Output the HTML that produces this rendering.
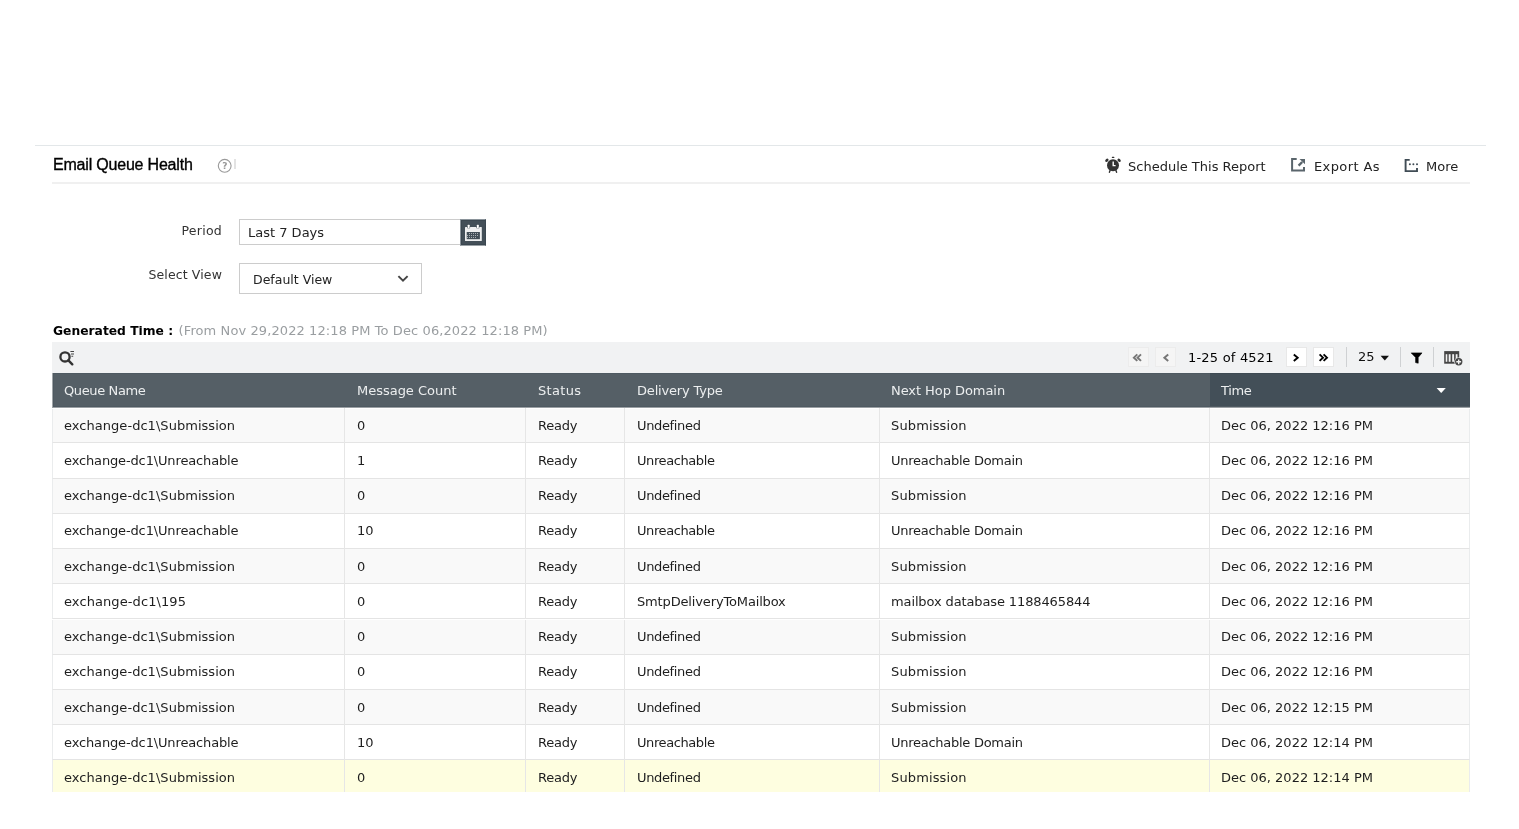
<!DOCTYPE html>
<html><head><meta charset="utf-8">
<style>
#wrap{position:absolute;left:0;top:0;width:1519px;height:829px;will-change:transform}
*{box-sizing:border-box}
html,body{margin:0;padding:0;background:#fff;width:1519px;height:829px;overflow:hidden}
body{font-family:"DejaVu Sans",sans-serif;font-size:13px;color:#000;position:relative}
.abs{position:absolute}
.t{position:absolute;white-space:nowrap;line-height:15px}
#topline{left:35px;top:145px;width:1451px;height:1px;background:#e3e7e9}
#botline{left:52px;top:182px;width:1418px;height:2px;background:#f0f0f0}
#title{left:53px;top:156px;font-family:"Liberation Sans",sans-serif;font-size:16px;line-height:18px;color:#000;letter-spacing:-0.2px;-webkit-text-stroke:0.35px #000}
.act{color:#222}
#toolbar{left:52px;top:342px;width:1418px;height:31px;background:#f1f2f3}
#thead{left:52px;top:373px;width:1418px;height:35px;background:#555f66;border-left:1px solid #a0a5a8;border-bottom:1px solid #9ba0a4;box-shadow:inset 1px 1px 0 #4f5a62,inset 0 -1px 0 #4f5a62}
.th{position:absolute;top:10px;color:#eceeef;line-height:15px;white-space:nowrap}
.row{position:absolute;left:52px;width:1418px;height:35.22px;border-bottom:1px solid #e4e4e4;border-left:1px solid #eaeced;border-right:1px solid #eaeced}
.row.o{background:#f9f9f9}
.row.e{background:#fff}
.row.y{background:#fefee0}
.vl{position:absolute;top:0;bottom:-1px;width:1px;background:#e6e6e6}
.td{position:absolute;line-height:15px;white-space:nowrap;color:#1e1e1e}
.pbtn{position:absolute;top:347px;width:21px;height:20px;background:#f5f5f5;border:1px solid #ececec}
.sep{position:absolute;top:347px;width:1px;height:20px;background:#cfd1d3}
</style></head><body><div id="wrap">
<div class="abs" id="topline"></div>
<div class="t" id="title">Email Queue Health</div>
<svg class="abs" style="left:217px;top:158px" width="16" height="16" viewBox="0 0 16 16">
<circle cx="7.7" cy="7.8" r="6.4" fill="none" stroke="#9a9a9a" stroke-width="1.1"/>
<text x="7.8" y="11.3" font-family="DejaVu Sans, sans-serif" font-weight="bold" font-size="9" fill="#999" text-anchor="middle">?</text>
</svg>
<div class="abs" style="left:234px;top:159px;width:2px;height:9.5px;background:#e3e3e3"></div>

<!-- actions -->
<svg class="abs" style="left:1104px;top:155px" width="18" height="19" viewBox="0 0 18 19">
<circle cx="9" cy="10.3" r="6" fill="#333"/>
<rect x="7.8" y="1.8" width="2.6" height="1.3" rx="0.6" fill="#333"/>
<ellipse cx="2.9" cy="5.3" rx="1.9" ry="1.35" transform="rotate(-45 2.9 5.3)" fill="#333"/>
<ellipse cx="15.1" cy="5.3" rx="1.9" ry="1.35" transform="rotate(45 15.1 5.3)" fill="#333"/>
<path d="M6.2 15 L5.4 17.3 M11.8 15 L12.6 17.3" stroke="#333" stroke-width="1.4" stroke-linecap="round"/>
<path d="M9.2 6.4 V10.6 H11.6" fill="none" stroke="#fff" stroke-width="1.4"/>
</svg>
<div class="t act" style="left:1128px;top:158.5px">Schedule This Report</div>
<svg class="abs" style="left:1290px;top:157px" width="16" height="16" viewBox="0 0 16 16">
<path d="M6.7 2 H2.1 V13.4 H14 V10" fill="none" stroke="#5a656c" stroke-width="2"/>
<path d="M8.6 8.6 L12.2 5" stroke="#5a656c" stroke-width="2.4"/>
<path d="M9.5 1.9 H15 V7.2 Z" fill="#5a656c"/>
</svg>
<div class="t act" style="left:1314px;top:158.5px;letter-spacing:0.4px">Export As</div>
<svg class="abs" style="left:1403px;top:158px" width="16" height="16" viewBox="0 0 16 16">
<path d="M6.7 1.9 H2.6 V13.1 H14 V10" fill="none" stroke="#404c55" stroke-width="1.9"/>
<circle cx="6.9" cy="6.3" r="1" fill="#404c55"/><circle cx="10.4" cy="6.3" r="1" fill="#404c55"/><circle cx="14" cy="6.3" r="1" fill="#404c55"/>
</svg>
<div class="t act" style="left:1426px;top:158.5px">More</div>
<div class="abs" id="botline"></div>

<!-- form -->
<div class="t" style="right:1297px;top:222.5px;color:#333;font-size:12.5px;letter-spacing:0.25px">Period</div>
<div class="abs" style="left:239px;top:219px;width:222px;height:26px;border:1px solid #cccccc;background:#fff"></div>
<div class="t" style="left:248px;top:225px;color:#222">Last 7 Days</div>
<div class="abs" style="left:460px;top:219px;width:26px;height:27px;background:#434f58;border-left:1px solid #8a939a;border-top:1px solid #8a939a;border-bottom:1px solid #9aa1a6;border-right:1px solid #3b4750;box-shadow:inset 1px 1px 0 #3b4750,inset 0 -1px 0 #3b4750"></div>
<svg class="abs" style="left:464px;top:224px" width="18" height="18" viewBox="0 0 18 18">
<rect x="1" y="3" width="16.8" height="14" rx="0.6" fill="#eeeff0"/>
<rect x="2.7" y="8" width="13.2" height="7.2" fill="#434f58"/>
<rect x="3.2" y="0.4" width="2.9" height="3.9" rx="0.5" fill="#434f58"/>
<rect x="12.4" y="0.4" width="2.9" height="3.9" rx="0.5" fill="#434f58"/>
<rect x="3.7" y="0.8" width="1.9" height="3.1" rx="0.5" fill="#fff"/>
<rect x="12.9" y="0.8" width="1.9" height="3.1" rx="0.5" fill="#fff"/>
<g fill="#a9afb4"><rect x="5" y="9" width="1" height="1"/><rect x="7" y="9" width="1" height="1"/><rect x="9" y="9" width="1" height="1"/><rect x="11" y="9" width="1" height="1"/><rect x="13" y="9" width="1" height="1"/><rect x="3" y="11" width="1" height="1"/><rect x="5" y="11" width="1" height="1"/><rect x="7" y="11" width="1" height="1"/><rect x="9" y="11" width="1" height="1"/><rect x="11" y="11" width="1" height="1"/><rect x="13" y="11" width="1" height="1"/><rect x="3" y="13" width="1" height="1"/><rect x="5" y="13" width="1" height="1"/><rect x="7" y="13" width="1" height="1"/><rect x="9" y="13" width="1" height="1"/><rect x="11" y="13" width="1" height="1"/></g>
</svg>

<div class="t" style="right:1297px;top:267px;color:#333;font-size:12.5px;letter-spacing:0.12px">Select View</div>
<div class="abs" style="left:239px;top:263px;width:183px;height:31px;border:1px solid #cccccc;background:#fff"></div>
<div class="t" style="left:253px;top:272px;color:#222;font-size:12.5px">Default View</div>
<svg class="abs" style="left:396px;top:273px" width="14" height="10" viewBox="0 0 14 10">
<path d="M2.4 3.1 L7 7.7 L11.6 3.1" fill="none" stroke="#444" stroke-width="1.9"/>
</svg>

<div class="t" style="left:53px;top:323px"><b style="font-size:12.3px">Generated Time :</b> <span style="color:#9a9ea1;letter-spacing:0.095px;margin-left:1.3px">(From Nov 29,2022 12:18 PM To Dec 06,2022 12:18 PM)</span></div>

<!-- toolbar -->
<div class="abs" id="toolbar"></div>
<svg class="abs" style="left:56px;top:348px" width="20" height="20" viewBox="0 0 20 20">
<circle cx="9" cy="8.9" r="4.6" fill="none" stroke="#333" stroke-width="2.3"/>
<path d="M12.4 12.4 L16.3 16.3" stroke="#333" stroke-width="2.4" stroke-linecap="round"/>
<path d="M14.4 3.5 H18 M15 6 H18 M15.4 8.3 H17.2" stroke="#444" stroke-width="1.1"/>
</svg>

<div class="pbtn" style="left:1128px"></div>
<div class="pbtn" style="left:1155px"></div>
<div class="pbtn" style="left:1286px;background:#fff;border-color:#e8e8e8"></div>
<div class="pbtn" style="left:1313px;background:#fff;border-color:#e8e8e8"></div>
<div id="pagertext"></div>
<svg class="abs" style="left:1128px;top:347px" width="20" height="20" viewBox="0 0 20 20"><path d="M9.3 7.4 L5.9 10.65 L9.3 13.9 M13 7.4 L9.6 10.65 L13 13.9" fill="none" stroke="#777" stroke-width="2"/></svg>
<svg class="abs" style="left:1155px;top:347px" width="20" height="20" viewBox="0 0 20 20"><path d="M13.2 7.4 L9.4 10.65 L13.2 13.9" fill="none" stroke="#777" stroke-width="2"/></svg>
<div class="t" style="left:1188px;top:349.5px;color:#000;letter-spacing:0.2px">1-25 of 4521</div>
<svg class="abs" style="left:1286px;top:347px" width="20" height="20" viewBox="0 0 20 20"><path d="M7.8 7.4 L11.7 10.65 L7.8 13.9" fill="none" stroke="#000" stroke-width="1.9"/></svg>
<svg class="abs" style="left:1313px;top:347px" width="20" height="20" viewBox="0 0 20 20"><path d="M6.6 7.4 L10 10.65 L6.6 13.9 M10.6 7.4 L14 10.65 L10.6 13.9" fill="none" stroke="#000" stroke-width="1.9"/></svg>
<div class="sep" style="left:1346px"></div>
<div class="t" style="left:1358px;top:348.5px;color:#111">25</div>
<svg class="abs" style="left:1380px;top:354.6px" width="10" height="7" viewBox="0 0 10 7"><path d="M0.6 0.8 H9 L4.8 5.6 Z" fill="#111"/></svg>
<div class="sep" style="left:1400px"></div>
<svg class="abs" style="left:1410px;top:351.8px" width="14" height="13" viewBox="0 0 14 13"><path d="M1.2 0.9 H12 L8.2 5.4 V11.2 L5.6 10.6 V5.4 Z" fill="#000" stroke="#000" stroke-width="0.6" stroke-linejoin="round"/></svg>
<div class="sep" style="left:1433px"></div>
<svg class="abs" style="left:1443px;top:350px" width="22" height="18" viewBox="0 0 22 18">
<rect x="1.2" y="1.1" width="15" height="12.6" fill="#444"/>
<g fill="#f2f2f2"><rect x="2.7" y="4.2" width="1.6" height="7.6"/><rect x="5.7" y="4.2" width="1.9" height="7.6"/><rect x="9.2" y="4.2" width="1.9" height="7.6"/><rect x="12.7" y="4.2" width="1.8" height="7.6"/></g>
<circle cx="15.7" cy="11.8" r="4.4" fill="#f1f2f3"/>
<circle cx="15.7" cy="11.8" r="3.7" fill="#444"/>
<path d="M15.7 9.4 V14.2 M13.3 11.8 H18.1" stroke="#f2f2f2" stroke-width="1.4"/>
</svg>

<div class="abs" id="thead">
<div class="abs" style="left:1157px;top:0;width:260px;height:33px;background:#434f58;box-shadow:inset 0 1px 0 #3e4a53"></div>
<div class="th" style="left:11px;letter-spacing:-0.38px">Queue Name</div>
<div class="th" style="left:304px;letter-spacing:-0.02px">Message Count</div>
<div class="th" style="left:485px;letter-spacing:0.34px">Status</div>
<div class="th" style="left:584px;letter-spacing:-0.18px">Delivery Type</div>
<div class="th" style="left:838px;letter-spacing:-0.06px">Next Hop Domain</div>
<div class="th" style="left:1168px;letter-spacing:-0.37px">Time</div>
<svg class="abs" style="left:1383px;top:14px" width="11" height="7" viewBox="0 0 11 7"><path d="M0.6 1 H9.8 L5.2 6.1 Z" fill="#fff"/></svg>
</div>
<div class="abs" style="left:52px;top:408px;width:1418px;height:1px;background:#fff"></div>
<div class="row o" style="top:409.00px;height:34.40px">
<div class="vl" style="left:291px;top:-1px"></div>
<div class="vl" style="left:472px;top:-1px"></div>
<div class="vl" style="left:571px;top:-1px"></div>
<div class="vl" style="left:826px;top:-1px"></div>
<div class="vl" style="left:1156px;top:-1px"></div>
<div class="td" style="left:11px;top:8.80px;letter-spacing:0.04px">exchange-dc1\Submission</div>
<div class="td" style="left:304px;top:8.80px">0</div>
<div class="td" style="left:485px;top:8.80px;letter-spacing:-0.22px">Ready</div>
<div class="td" style="left:584px;top:8.80px;letter-spacing:-0.35px">Undefined</div>
<div class="td" style="left:838px;top:8.80px;letter-spacing:0.13px">Submission</div>
<div class="td" style="left:1168px;top:8.80px">Dec 06, 2022 12:16 PM</div>
</div>
<div class="row e" style="top:443.40px;height:35.22px">
<div class="vl" style="left:291px"></div>
<div class="vl" style="left:472px"></div>
<div class="vl" style="left:571px"></div>
<div class="vl" style="left:826px"></div>
<div class="vl" style="left:1156px"></div>
<div class="td" style="left:11px;top:9.62px;letter-spacing:-0.14px">exchange-dc1\Unreachable</div>
<div class="td" style="left:304px;top:9.62px">1</div>
<div class="td" style="left:485px;top:9.62px;letter-spacing:-0.22px">Ready</div>
<div class="td" style="left:584px;top:9.62px;letter-spacing:-0.41px">Unreachable</div>
<div class="td" style="left:838px;top:9.62px;letter-spacing:-0.27px">Unreachable Domain</div>
<div class="td" style="left:1168px;top:9.62px">Dec 06, 2022 12:16 PM</div>
</div>
<div class="row o" style="top:478.62px;height:35.22px">
<div class="vl" style="left:291px"></div>
<div class="vl" style="left:472px"></div>
<div class="vl" style="left:571px"></div>
<div class="vl" style="left:826px"></div>
<div class="vl" style="left:1156px"></div>
<div class="td" style="left:11px;top:9.62px;letter-spacing:0.04px">exchange-dc1\Submission</div>
<div class="td" style="left:304px;top:9.62px">0</div>
<div class="td" style="left:485px;top:9.62px;letter-spacing:-0.22px">Ready</div>
<div class="td" style="left:584px;top:9.62px;letter-spacing:-0.35px">Undefined</div>
<div class="td" style="left:838px;top:9.62px;letter-spacing:0.13px">Submission</div>
<div class="td" style="left:1168px;top:9.62px">Dec 06, 2022 12:16 PM</div>
</div>
<div class="row e" style="top:513.84px;height:35.22px">
<div class="vl" style="left:291px"></div>
<div class="vl" style="left:472px"></div>
<div class="vl" style="left:571px"></div>
<div class="vl" style="left:826px"></div>
<div class="vl" style="left:1156px"></div>
<div class="td" style="left:11px;top:9.62px;letter-spacing:-0.14px">exchange-dc1\Unreachable</div>
<div class="td" style="left:304px;top:9.62px">10</div>
<div class="td" style="left:485px;top:9.62px;letter-spacing:-0.22px">Ready</div>
<div class="td" style="left:584px;top:9.62px;letter-spacing:-0.41px">Unreachable</div>
<div class="td" style="left:838px;top:9.62px;letter-spacing:-0.27px">Unreachable Domain</div>
<div class="td" style="left:1168px;top:9.62px">Dec 06, 2022 12:16 PM</div>
</div>
<div class="row o" style="top:549.06px;height:35.22px">
<div class="vl" style="left:291px"></div>
<div class="vl" style="left:472px"></div>
<div class="vl" style="left:571px"></div>
<div class="vl" style="left:826px"></div>
<div class="vl" style="left:1156px"></div>
<div class="td" style="left:11px;top:9.62px;letter-spacing:0.04px">exchange-dc1\Submission</div>
<div class="td" style="left:304px;top:9.62px">0</div>
<div class="td" style="left:485px;top:9.62px;letter-spacing:-0.22px">Ready</div>
<div class="td" style="left:584px;top:9.62px;letter-spacing:-0.35px">Undefined</div>
<div class="td" style="left:838px;top:9.62px;letter-spacing:0.13px">Submission</div>
<div class="td" style="left:1168px;top:9.62px">Dec 06, 2022 12:16 PM</div>
</div>
<div class="row e" style="top:584.28px;height:35.22px">
<div class="vl" style="left:291px"></div>
<div class="vl" style="left:472px"></div>
<div class="vl" style="left:571px"></div>
<div class="vl" style="left:826px"></div>
<div class="vl" style="left:1156px"></div>
<div class="td" style="left:11px;top:9.62px;letter-spacing:0.09px">exchange-dc1\195</div>
<div class="td" style="left:304px;top:9.62px">0</div>
<div class="td" style="left:485px;top:9.62px;letter-spacing:-0.22px">Ready</div>
<div class="td" style="left:584px;top:9.62px;letter-spacing:-0.15px">SmtpDeliveryToMailbox</div>
<div class="td" style="left:838px;top:9.62px;letter-spacing:-0.12px">mailbox database 1188465844</div>
<div class="td" style="left:1168px;top:9.62px">Dec 06, 2022 12:16 PM</div>
</div>
<div class="row o" style="top:619.50px;height:35.22px">
<div class="vl" style="left:291px"></div>
<div class="vl" style="left:472px"></div>
<div class="vl" style="left:571px"></div>
<div class="vl" style="left:826px"></div>
<div class="vl" style="left:1156px"></div>
<div class="td" style="left:11px;top:9.62px;letter-spacing:0.04px">exchange-dc1\Submission</div>
<div class="td" style="left:304px;top:9.62px">0</div>
<div class="td" style="left:485px;top:9.62px;letter-spacing:-0.22px">Ready</div>
<div class="td" style="left:584px;top:9.62px;letter-spacing:-0.35px">Undefined</div>
<div class="td" style="left:838px;top:9.62px;letter-spacing:0.13px">Submission</div>
<div class="td" style="left:1168px;top:9.62px">Dec 06, 2022 12:16 PM</div>
</div>
<div class="row e" style="top:654.72px;height:35.22px">
<div class="vl" style="left:291px"></div>
<div class="vl" style="left:472px"></div>
<div class="vl" style="left:571px"></div>
<div class="vl" style="left:826px"></div>
<div class="vl" style="left:1156px"></div>
<div class="td" style="left:11px;top:9.62px;letter-spacing:0.04px">exchange-dc1\Submission</div>
<div class="td" style="left:304px;top:9.62px">0</div>
<div class="td" style="left:485px;top:9.62px;letter-spacing:-0.22px">Ready</div>
<div class="td" style="left:584px;top:9.62px;letter-spacing:-0.35px">Undefined</div>
<div class="td" style="left:838px;top:9.62px;letter-spacing:0.13px">Submission</div>
<div class="td" style="left:1168px;top:9.62px">Dec 06, 2022 12:16 PM</div>
</div>
<div class="row o" style="top:689.94px;height:35.22px">
<div class="vl" style="left:291px"></div>
<div class="vl" style="left:472px"></div>
<div class="vl" style="left:571px"></div>
<div class="vl" style="left:826px"></div>
<div class="vl" style="left:1156px"></div>
<div class="td" style="left:11px;top:9.62px;letter-spacing:0.04px">exchange-dc1\Submission</div>
<div class="td" style="left:304px;top:9.62px">0</div>
<div class="td" style="left:485px;top:9.62px;letter-spacing:-0.22px">Ready</div>
<div class="td" style="left:584px;top:9.62px;letter-spacing:-0.35px">Undefined</div>
<div class="td" style="left:838px;top:9.62px;letter-spacing:0.13px">Submission</div>
<div class="td" style="left:1168px;top:9.62px">Dec 06, 2022 12:15 PM</div>
</div>
<div class="row e" style="top:725.16px;height:35.22px">
<div class="vl" style="left:291px"></div>
<div class="vl" style="left:472px"></div>
<div class="vl" style="left:571px"></div>
<div class="vl" style="left:826px"></div>
<div class="vl" style="left:1156px"></div>
<div class="td" style="left:11px;top:9.62px;letter-spacing:-0.14px">exchange-dc1\Unreachable</div>
<div class="td" style="left:304px;top:9.62px">10</div>
<div class="td" style="left:485px;top:9.62px;letter-spacing:-0.22px">Ready</div>
<div class="td" style="left:584px;top:9.62px;letter-spacing:-0.41px">Unreachable</div>
<div class="td" style="left:838px;top:9.62px;letter-spacing:-0.27px">Unreachable Domain</div>
<div class="td" style="left:1168px;top:9.62px">Dec 06, 2022 12:14 PM</div>
</div>
<div class="row y" style="top:760.38px;height:35.22px">
<div class="vl" style="left:291px"></div>
<div class="vl" style="left:472px"></div>
<div class="vl" style="left:571px"></div>
<div class="vl" style="left:826px"></div>
<div class="vl" style="left:1156px"></div>
<div class="td" style="left:11px;top:9.62px;letter-spacing:0.04px">exchange-dc1\Submission</div>
<div class="td" style="left:304px;top:9.62px">0</div>
<div class="td" style="left:485px;top:9.62px;letter-spacing:-0.22px">Ready</div>
<div class="td" style="left:584px;top:9.62px;letter-spacing:-0.35px">Undefined</div>
<div class="td" style="left:838px;top:9.62px;letter-spacing:0.13px">Submission</div>
<div class="td" style="left:1168px;top:9.62px">Dec 06, 2022 12:14 PM</div>
</div>
<div class="abs" style="left:0;top:792px;width:1519px;height:37px;background:#fff"></div>
</div></body></html>
